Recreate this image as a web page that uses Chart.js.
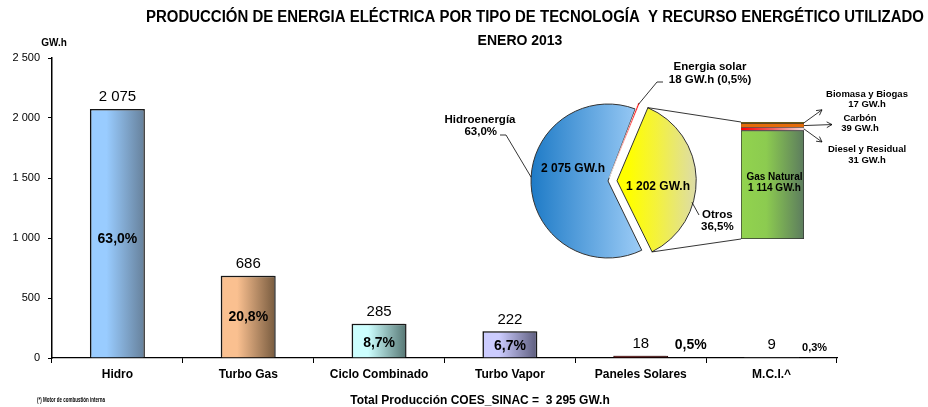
<!DOCTYPE html>
<html>
<head>
<meta charset="utf-8">
<script src="https://cdn.jsdelivr.net/npm/chart.js@4.4.1/dist/chart.umd.min.js"></script>
<style>
  html, body { margin: 0; padding: 0; background: #fff; }
  #wrap { position: relative; width: 928px; height: 407px; }
  canvas { position: absolute; left: 0; top: 0; }
</style>
</head>
<body>
<div id="wrap">
  <canvas id="mainChart" width="928" height="407"></canvas>
  <canvas id="pieChart" width="928" height="407"></canvas>
  <canvas id="otrosChart" width="928" height="407"></canvas>
</div>
<script>
// Bar chart data
const categories = ['Hidro', 'Turbo Gas', 'Ciclo Combinado', 'Turbo Vapor', 'Paneles Solares', 'M.C.I.^'];
const production = [2075, 686, 285, 222, 18, 9];
const shares = ['63,0%', '20,8%', '8,7%', '6,7%', '0,5%', '0,3%'];
const yMax = 2500;
const yStep = 500;

// Pie data
const pieNames = ['Hidroenergía', 'Energia solar', 'Otros'];
const pieValues = [2075, 18, 1202];
const pieShares = ['63,0%', '0,5%', '36,5%'];

// "Otros" breakdown (bottom to top)
const otrosNames = ['Gas Natural', 'Diesel y Residual', 'Carbón', 'Biomasa y Biogas'];
const otrosValues = [1114, 31, 39, 17];

const totalProduction = 3295;

// Styles
const SANS = "'Liberation Sans', Arial, sans-serif";
const NARROW = "'Liberation Sans Narrow', 'Liberation Sans', Arial, sans-serif";
const barLeft = ['#99CCFF', '#FAC090', '#CCFFFF', '#CCCCFF', '#8A0000', '#8C8C8C'];
const barRight = ['#66809A', '#765A3E', '#557572', '#5C5C7C', '#3A0000', '#5A5A5A'];
const barEdge = ['#1a1a1a', '#1a1a1a', '#1a1a1a', '#1a1a1a', '#2a0000', '#6a6a6a'];
const shareDy = [6, 1, 2, 2];

Chart.defaults.font.family = SANS;

const fmt = n => String(n).replace(/\B(?=(\d{3})+(?!\d))/g, ' ');

function hGrad(ctx, x0, x1, stops) {
  const g = ctx.createLinearGradient(x0, 0, x1, 0);
  stops.forEach(([p, c]) => g.addColorStop(p, c));
  return g;
}

function arrow(ctx, x1, y1, x2, y2) {
  const a = Math.atan2(y2 - y1, x2 - x1), h = 6;
  ctx.beginPath();
  ctx.moveTo(x1, y1);
  ctx.lineTo(x2, y2);
  ctx.moveTo(x2 - h * Math.cos(a - 0.5), y2 - h * Math.sin(a - 0.5));
  ctx.lineTo(x2, y2);
  ctx.lineTo(x2 - h * Math.cos(a + 0.5), y2 - h * Math.sin(a + 0.5));
  ctx.stroke();
}

// soft shadow behind the bars, like the original
const barShadow = {
  id: 'barShadow',
  beforeDatasetsDraw(chart) {
    const ctx = chart.ctx;
    ctx.save();
    ctx.shadowColor = 'rgba(0,0,0,0.35)';
    ctx.shadowOffsetX = -2;
    ctx.shadowOffsetY = -1.5;
    ctx.shadowBlur = 1;
  },
  afterDatasetsDraw(chart) {
    chart.ctx.restore();
  }
};

// ---- Main bar chart ----
const mainNotes = {
  id: 'mainNotes',
  afterDraw(chart) {
    const ctx = chart.ctx;
    const bars = chart.getDatasetMeta(0).data;
    ctx.save();
    ctx.fillStyle = '#000';
    ctx.textAlign = 'center';
    ctx.textBaseline = 'middle';
    ctx.font = `bold 16px ${NARROW}`;
    ctx.fillText('PRODUCCIÓN DE ENERGIA ELÉCTRICA POR TIPO DE TECNOLOGÍA  Y RECURSO ENERGÉTICO UTILIZADO', 535, 18, 778);
    ctx.font = `bold 14px ${NARROW}`;
    ctx.fillText('ENERO 2013', 520, 41);
    ctx.font = `bold 10px ${NARROW}`;
    ctx.fillText('GW.h', 54, 43);

    bars.forEach((b, i) => {
      ctx.font = `15px ${SANS}`;
      ctx.fillText(fmt(production[i]), b.x, b.y - 12);
      if (i < 4) {
        ctx.font = `bold 14px ${SANS}`;
        ctx.fillText(shares[i], b.x, (b.y + b.base) / 2 + shareDy[i]);
      } else if (i === 4) {
        ctx.font = `bold 14px ${SANS}`;
        ctx.fillText(shares[i], b.x + 50, b.y - 11);
      } else {
        ctx.font = `bold 11px ${SANS}`;
        ctx.fillText(shares[i], b.x + 43, b.y - 9);
      }
    });

    ctx.font = `bold 12px ${NARROW}`;
    ctx.fillText(`Total Producción COES_SINAC =  ${fmt(totalProduction)} GW.h`, 480, 401);
    ctx.textAlign = 'left';
    ctx.font = `bold 8px ${NARROW}`;
    ctx.fillText('(*) Motor de combustión interna', 37, 400, 68);
    ctx.restore();
  }
};

new Chart(document.getElementById('mainChart'), {
  type: 'bar',
  data: {
    labels: categories,
    datasets: [{
      data: production,
      backgroundColor: (c) => {
        const chart = c.chart;
        const i = c.dataIndex;
        if (!chart.chartArea || i === undefined) return barLeft[i || 0];
        const x = chart.scales.x.getPixelForValue(i);
        const w = chart.scales.x.width / categories.length * 0.42;
        return hGrad(chart.ctx, x - w / 2, x + w / 2, [[0, barLeft[i]], [0.3, barLeft[i]], [1, barRight[i]]]);
      },
      borderColor: barEdge,
      borderWidth: (c) => (c.dataIndex >= 4 ? 1 : 1.5),
      borderSkipped: 'bottom',
      barPercentage: 0.42,
      categoryPercentage: 1
    }]
  },
  options: {
    responsive: false,
    animation: false,
    layout: { padding: { left: 0, right: 91, top: 58, bottom: 0 } },
    plugins: { legend: { display: false }, tooltip: { enabled: false } },
    scales: {
      x: {
        grid: { offset: true, drawOnChartArea: false, tickLength: 5, color: '#000' },
        border: { color: '#000', width: 1.2 },
        ticks: { font: { family: NARROW, weight: 'bold', size: 12 }, color: '#000', padding: 4, maxRotation: 0 },
        afterFit(s) { s.height = 49; }
      },
      y: {
        min: 0,
        max: yMax,
        ticks: { stepSize: yStep, callback: v => fmt(v), font: { size: 11 }, color: '#000', padding: 8 },
        grid: { drawOnChartArea: false, tickLength: 4, color: '#000' },
        border: { color: '#000', width: 1.5 },
        afterFit(s) { s.width = 52; }
      }
    }
  },
  plugins: [barShadow, mainNotes]
});

// ---- Pie chart ----
const pieNotes = {
  id: 'pieNotes',
  afterDraw(chart) {
    const ctx = chart.ctx;
    const arcs = chart.getDatasetMeta(0).data;
    const blue = arcs[0];
    const cx = blue.x, cy = blue.y, r = blue.outerRadius;
    ctx.save();
    ctx.fillStyle = '#000';
    ctx.strokeStyle = '#000';
    ctx.lineWidth = 0.8;
    ctx.textBaseline = 'middle';

    // values inside slices
    ctx.textAlign = 'center';
    ctx.font = `bold 12px ${SANS}`;
    ctx.fillText(`${fmt(pieValues[0])} GW.h`, cx - 35, cy - 12);
    ctx.fillText(`${fmt(pieValues[2])} GW.h`, cx + 50, cy + 6);

    // Hidroenergía callout
    ctx.font = `bold 11.5px ${SANS}`;
    ctx.fillText(pieNames[0], cx - 128, cy - 61);
    ctx.textAlign = 'right';
    ctx.fillText(pieShares[0], cx - 111, cy - 49);
    const ah = Math.PI + 0.05;
    ctx.beginPath();
    ctx.moveTo(cx - 108, cy - 46);
    ctx.lineTo(cx - 102, cy - 46);
    ctx.lineTo(cx + r * Math.cos(ah), cy + r * Math.sin(ah));
    ctx.stroke();

    // Energia solar callout
    const sol = arcs[1];
    const sm = (sol.startAngle + sol.endAngle) / 2;
    const so = sol.options.offset / 4;
    const sx = sol.x + Math.cos(sm) * so + (r + 2) * Math.cos(sm);
    const sy = sol.y + Math.sin(sm) * so + (r + 2) * Math.sin(sm);
    ctx.beginPath();
    ctx.moveTo(sx, sy);
    ctx.lineTo(cx + 49, cy - 99);
    ctx.lineTo(cx + 55, cy - 99);
    ctx.stroke();
    ctx.textAlign = 'center';
    ctx.fillText(pieNames[1], cx + 102, cy - 114);
    ctx.fillText(`${pieValues[1]} GW.h (${pieShares[1]})`, cx + 102, cy - 101);

    // Otros callout
    const yel = arcs[2];
    const ym = (yel.startAngle + yel.endAngle) / 2;
    const yo = yel.options.offset / 4;
    const ycx = yel.x + Math.cos(ym) * yo, ycy = yel.y + Math.sin(ym) * yo;
    const oa = 0.28;
    ctx.beginPath();
    ctx.moveTo(ycx + (r + 1) * Math.cos(oa), ycy + (r + 1) * Math.sin(oa));
    ctx.lineTo(cx + 91, cy + 34);
    ctx.stroke();
    ctx.textAlign = 'left';
    ctx.fillText(pieNames[2], cx + 94, cy + 34);
    ctx.fillText(pieShares[2], cx + 93, cy + 46);
    ctx.restore();
  }
};

const pieChart = new Chart(document.getElementById('pieChart'), {
  type: 'pie',
  data: {
    labels: pieNames,
    datasets: [{
      data: pieValues,
      backgroundColor: (c) => {
        const chart = c.chart;
        const a = chart.chartArea;
        if (!a) return '#8ec4f2';
        const cx = (a.left + a.right) / 2;
        if (c.dataIndex === 0) return hGrad(chart.ctx, cx - 78, cx + 35, [[0, '#1D7AC6'], [1, '#9ECDF7']]);
        if (c.dataIndex === 1) return '#FF0000';
        return hGrad(chart.ctx, cx + 12, cx + 90, [[0, '#FFFF00'], [0.35, '#F4F23C'], [1, '#D6D6C6']]);
      },
      borderColor: ['#333', '#FFFFFF', '#333'],
      borderWidth: [1, 0.6, 1],
      offset: [0, 14, 36]
    }]
  },
  options: {
    responsive: false,
    animation: false,
    radius: 77,
    rotation: 154,
    layout: { padding: { left: 508, right: 220, top: 81, bottom: 126 } },
    plugins: { legend: { display: false }, tooltip: { enabled: false } }
  },
  plugins: [pieNotes]
});

// ---- "Otros" stacked bar ----
const otrosColors = ['#90D050', '#FF0000', '#E46C0A', '#7A6A14'];
const otrosNotes = {
  id: 'otrosNotes',
  afterDraw(chart) {
    const ctx = chart.ctx;
    const segs = otrosValues.map((v, i) => chart.getDatasetMeta(i).data[0]);
    const green = segs[0], top = segs[segs.length - 1];
    const left = green.x - green.width / 2, right = green.x + green.width / 2;

    // connectors from the exploded slice
    const yel = pieChart.getDatasetMeta(0).data[2];
    const ym = (yel.startAngle + yel.endAngle) / 2;
    const yo = yel.options.offset / 4;
    const ycx = yel.x + Math.cos(ym) * yo, ycy = yel.y + Math.sin(ym) * yo;
    const yr = yel.outerRadius + yo * (1 - Math.sin(Math.min(Math.PI, yel.circumference)));
    ctx.save();
    ctx.strokeStyle = '#000';
    ctx.lineWidth = 0.8;
    ctx.beginPath();
    ctx.moveTo(ycx + yr * Math.cos(yel.startAngle), ycy + yr * Math.sin(yel.startAngle));
    ctx.lineTo(left, top.y);
    ctx.moveTo(ycx + yr * Math.cos(yel.endAngle), ycy + yr * Math.sin(yel.endAngle));
    ctx.lineTo(left, green.base);
    ctx.stroke();

    // arrows to the small segments
    const mid = s => (s.y + s.base) / 2;
    arrow(ctx, right, mid(segs[3]), right + 18, mid(segs[3]) - 13);
    arrow(ctx, right, mid(segs[2]), right + 28, mid(segs[2]) - 1);
    arrow(ctx, right, mid(segs[1]), right + 18, mid(segs[1]) + 13);

    ctx.fillStyle = '#000';
    ctx.textAlign = 'center';
    ctx.textBaseline = 'middle';
    ctx.font = `bold 9.5px ${SANS}`;
    ctx.fillText(otrosNames[3], right + 63, 94);
    ctx.fillText(`${otrosValues[3]} GW.h`, right + 63, 104);
    ctx.fillText(otrosNames[2], right + 56, 118);
    ctx.fillText(`${otrosValues[2]} GW.h`, right + 56, 128);
    ctx.fillText(otrosNames[1], right + 63, 149);
    ctx.fillText(`${otrosValues[1]} GW.h`, right + 63, 160);

    ctx.font = `bold 10px ${SANS}`;
    const gm = (green.y + green.base) / 2;
    ctx.fillText(otrosNames[0], green.x + 2, gm - 7);
    ctx.fillText(`${fmt(otrosValues[0])} GW.h`, green.x + 2, gm + 4);
    ctx.restore();
  }
};

new Chart(document.getElementById('otrosChart'), {
  type: 'bar',
  data: {
    labels: ['Otros'],
    datasets: otrosValues.map((v, i) => ({
      label: otrosNames[i],
      data: [v],
      backgroundColor: (c) => {
        const a = c.chart.chartArea;
        if (!a) return otrosColors[i];
        if (i === 0) return hGrad(c.chart.ctx, a.left, a.right, [[0, '#92D34E'], [0.4, '#8CCB50'], [1, '#5C7C5E']]);
        if (i === 1) return hGrad(c.chart.ctx, a.left, a.right, [[0, '#FF0000'], [0.5, '#F06060'], [1, '#F6E0E0']]);
        return otrosColors[i];
      },
      borderColor: '#333',
      borderWidth: i === 0 ? 1 : 0.5,
      borderSkipped: false,
      barPercentage: 1,
      categoryPercentage: 1
    }))
  },
  options: {
    responsive: false,
    animation: false,
    layout: { padding: { left: 741, right: 124, top: 122, bottom: 168 } },
    plugins: { legend: { display: false }, tooltip: { enabled: false } },
    scales: {
      x: { display: false, stacked: true },
      y: { display: false, stacked: true, min: 0, max: otrosValues.reduce((a, b) => a + b, 0) }
    }
  },
  plugins: [otrosNotes]
});
</script>
</body>
</html>
